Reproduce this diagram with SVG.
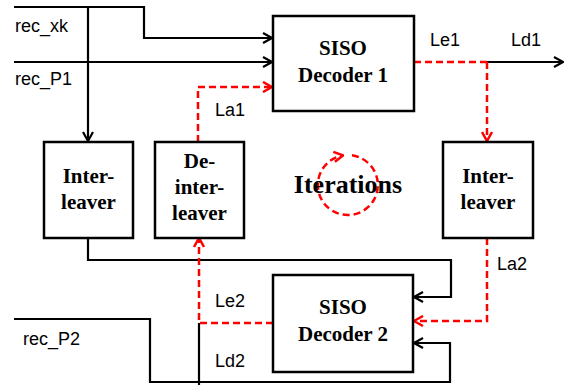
<svg xmlns="http://www.w3.org/2000/svg" width="566" height="385" viewBox="0 0 566 385">
<style>
.box{fill:#fff;stroke:#000;stroke-width:2.5}
.bt{font-family:"Liberation Serif","Times New Roman",serif;font-weight:bold;font-size:21px;fill:#000;text-anchor:middle}
.lb{font-family:"Liberation Sans",Arial,sans-serif;font-size:18px;fill:#000}
.k{fill:none;stroke:#000;stroke-width:2.2}
.r{fill:none;stroke:#f00;stroke-width:2.5;stroke-dasharray:7 4}
</style>
<defs>
<marker id="ak" viewBox="0 0 12 12" refX="11" refY="6" markerWidth="12" markerHeight="12" markerUnits="userSpaceOnUse" orient="auto"><path d="M2,1 L11,6 L2,11" fill="none" stroke="#000" stroke-width="2.2"/></marker>
<marker id="ar" viewBox="0 0 12 12" refX="11" refY="6" markerWidth="12" markerHeight="12" markerUnits="userSpaceOnUse" orient="auto"><path d="M2,1 L11,6 L2,11" fill="none" stroke="#f00" stroke-width="2.5"/></marker>
</defs>
<g id="connectors">
<polyline class="k" points="14,7 144,7 144,38 272,38" marker-end="url(#ak)"/>
<polyline class="k" points="88,7 88,141" marker-end="url(#ak)"/>
<polyline class="k" points="14,62 272,62" marker-end="url(#ak)"/>
<polyline class="k" points="487,62 563,62" marker-end="url(#ak)"/>
<polyline class="k" points="88,238 88,260 451,260 451,297 414,297" marker-end="url(#ak)"/>
<polyline class="k" points="14,319 150,319 150,382 450,382 450,343 414,343" marker-end="url(#ak)"/>
<polyline class="k" points="199,323 199,385"/>
<polyline class="r" points="198,142 198,87 272,87" marker-end="url(#ar)"/>
<polyline class="r" points="414,62 487,62"/>
<polyline class="r" points="487,62 487,141" marker-end="url(#ar)"/>
<polyline class="r" points="487,238 487,321 414,321" marker-end="url(#ar)"/>
<polyline class="r" points="273,323 199,323 199,238" marker-end="url(#ar)"/>
<text class="lb" x="15" y="32">rec_xk</text>
<text class="lb" x="15" y="85">rec_P1</text>
<text class="lb" x="215" y="116">La1</text>
<text class="lb" x="430" y="46">Le1</text>
<text class="lb" x="511" y="46">Ld1</text>
<text class="lb" x="497" y="270">La2</text>
<text class="lb" x="215" y="307">Le2</text>
<text class="lb" x="215" y="367">Ld2</text>
<text class="lb" x="23" y="345">rec_P2</text>
</g>
<g id="dec1">
<rect class="box" x="273" y="16" width="141" height="95"/>
<text class="bt" x="343" y="55">SISO</text>
<text class="bt" x="343" y="82">Decoder 1</text>
</g>
<g id="dec2">
<rect class="box" x="273" y="275" width="140" height="97"/>
<text class="bt" x="343" y="314">SISO</text>
<text class="bt" x="343" y="341">Decoder 2</text>
</g>
<g id="int1">
<rect class="box" x="44" y="142" width="89" height="96"/>
<text class="bt" x="88.5" y="183">Inter-</text>
<text class="bt" x="88.5" y="209">leaver</text>
</g>
<g id="deint">
<rect class="box" x="155" y="142" width="89" height="96"/>
<text class="bt" x="199.5" y="168">De-</text>
<text class="bt" x="199.5" y="194">inter-</text>
<text class="bt" x="199.5" y="220">leaver</text>
</g>
<g id="int2">
<rect class="box" x="443" y="142" width="90" height="96"/>
<text class="bt" x="488" y="183">Inter-</text>
<text class="bt" x="488" y="209">leaver</text>
</g>
<g id="iter">
<path class="r" d="M352,155.3 A30,30 0 1 1 343,155.4" marker-end="url(#ar)"/>
<text class="bt" x="348" y="193" style="font-size:26px">Iterations</text>
</g>
</svg>
